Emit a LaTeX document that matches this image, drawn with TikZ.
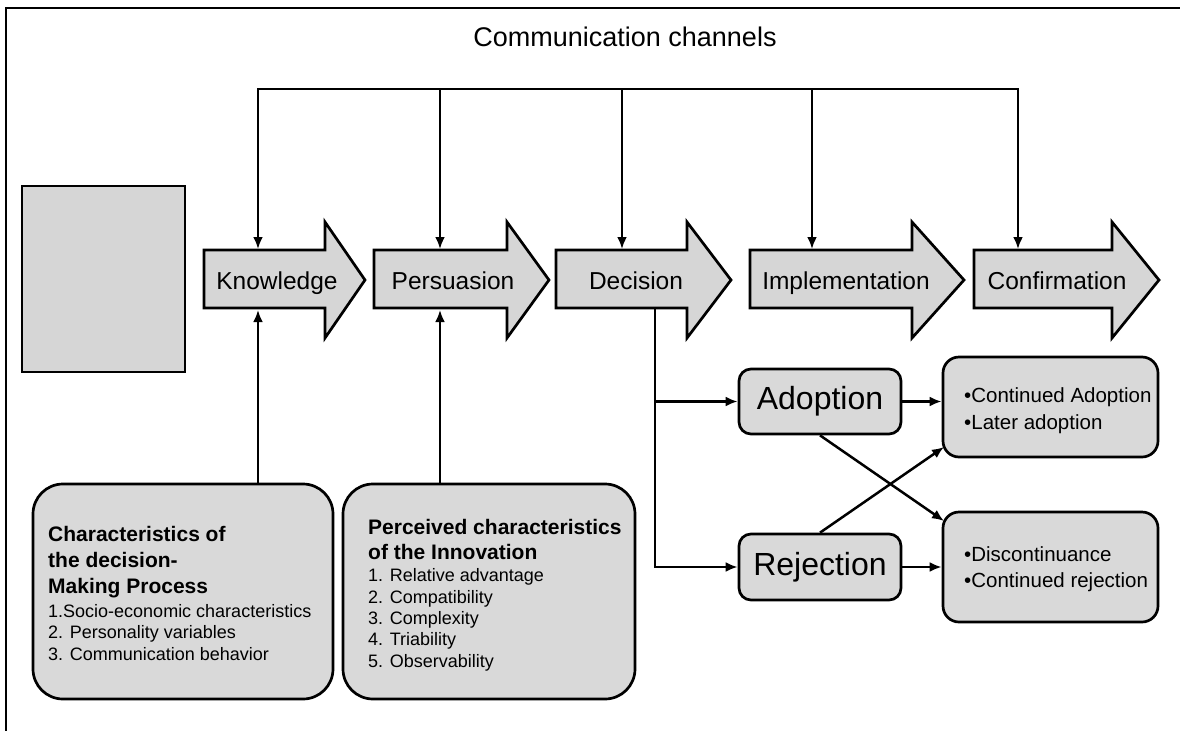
\documentclass[tikz,border=0pt]{standalone}
\usepackage{fontspec}
\setmainfont{Liberation Sans}
\usetikzlibrary{arrows.meta}
\begin{document}
\begin{tikzpicture}[x=1pt,y=-1pt,
  stage/.style={draw=black, line width=2.7pt, fill=black!16, line join=miter},
  box/.style={draw=black, line width=2.7pt, fill=black!15, rounded corners=#1, inner sep=0pt},
  plain/.style={line width=2.6pt},
  conn/.style={line width=2.5pt, -{Latex[length=12pt,width=10pt]}},
  stagelabel/.style={font=\fontsize{24.5}{28}\selectfont, inner sep=0pt},
  headtext/.style={font=\bfseries\fontsize{21}{24}\selectfont, inner sep=0pt, anchor=base west},
  listtext/.style={font=\fontsize{18}{21}\selectfont, inner sep=0pt, anchor=base west},
  bullettext/.style={font=\fontsize{20.5}{24}\selectfont, inner sep=0pt, anchor=base west},
  choicetext/.style={font=\fontsize{32}{36}\selectfont}
]
\useasboundingbox (0,0) rectangle (1180,731);
\fill[white] (0,0) rectangle (1180,731);
% frame lines
\draw[line width=2.4pt] (5,8) -- (1180,8);
\draw[line width=1.8pt] (6,8) -- (6,731);

% title
\node[font=\fontsize{27}{30}\selectfont] (title) at (625,37) {Communication channels};

% blank square
\node[draw=black, line width=2.7pt, fill=black!16, minimum width=163pt, minimum height=186pt, inner sep=0pt] (blank) at (103.5,279) {};

% stage arrows
\foreach \l/\b/\t/\n/\c/\lab in {204/325/365/know/277/Knowledge,
                                  374/507/549/pers/453/Persuasion,
                                  556/687/731/deci/636/Decision,
                                  750/912/964/impl/846/Implementation,
                                  974/1112/1159/conf/1057/Confirmation}{
  \draw[stage] (\l,250) -- (\b,250) -- (\b,222) -- (\t,280) -- (\b,338) -- (\b,308) -- (\l,308) -- cycle;
  \node[stagelabel, anchor=base] (\n) at (\c,289) {\lab};
}

% communication channel bus
\coordinate (bus1) at (258,89);
\coordinate (bus2) at (440,89);
\coordinate (bus3) at (622,89);
\coordinate (bus4) at (812,89);
\coordinate (bus5) at (1018,89);
\coordinate (top1) at (258,249);
\coordinate (top2) at (440,249);
\coordinate (top3) at (622,249);
\coordinate (top4) at (812,249);
\coordinate (top5) at (1018,249);
\draw[plain, line cap=rect] (bus1) -- (bus5);
\foreach \i in {1,...,5} \draw[conn] (bus\i) -- (top\i);

% bottom boxes
\node[box=30pt, minimum width=300pt, minimum height=215pt] (dmp) at (183,591.5) {};
\node[box=30pt, minimum width=292pt, minimum height=215pt] (pci) at (489,591.5) {};

\coordinate (kbot) at (258,310);
\coordinate (pbot) at (440,310);
\draw[conn] (dmp.north -| kbot) -- (kbot);
\draw[conn] (pci.north -| pbot) -- (pbot);

\foreach \t/\y [count=\i] in {Characteristics of/541, the decision-/567, Making Process/593}
  \node[headtext] (dmph\i) at (48,\y) {\t};
\foreach \t/\y [count=\i] in {1.Socio-economic characteristics/617, 2. Personality variables/638, 3. Communication behavior/660}
  \node[listtext] (dmpl\i) at (48,\y) {\t};

\foreach \t/\y [count=\i] in {Perceived characteristics/534, of the Innovation/559}
  \node[headtext] (pcih\i) at (368,\y) {\t};
\foreach \t/\y [count=\i] in {1. Relative advantage/581, 2. Compatibility/603, 3. Complexity/624, 4. Triability/645, 5. Observability/667}
  \node[listtext] (pcil\i) at (368,\y) {\t};

% adoption / rejection
\node[box=12pt, minimum width=162pt, minimum height=65pt, choicetext] (adop) at (820,401.5) {Adoption};
\node[box=12pt, minimum width=162pt, minimum height=66pt, choicetext] (rej) at (820,567) {Rejection};

\node[box=16pt, minimum width=215pt, minimum height=100pt] (rt) at (1050.5,407) {};
\node[box=16pt, minimum width=215pt, minimum height=110pt] (rb) at (1050.5,567) {};

\node[bullettext] (rt1) at (964,402) {•Continued Adoption};
\node[bullettext] (rt2) at (964,429) {•Later adoption};
\node[bullettext] (rb1) at (964,561) {•Discontinuance};
\node[bullettext] (rb2) at (964,587) {•Continued rejection};

\coordinate (dbot) at (655,308);
\draw[conn] (dbot) |- (rej.west);
\draw[conn] (dbot |- adop.west) -- (adop.west);
\draw[conn] (adop.east) -- (adop.east -| rt.west);
\draw[conn] (rej.east) -- (rej.east -| rb.west);

\coordinate (rtc) at (944,447);
\coordinate (rbc) at (944,521);
\draw[conn] (adop.south) -- (rbc);
\draw[conn] (rej.north) -- (rtc);
\end{tikzpicture}
\end{document}
